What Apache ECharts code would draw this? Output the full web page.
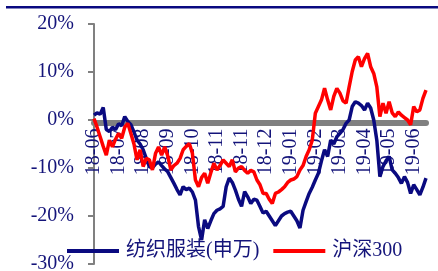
<!DOCTYPE html>
<html>
<head>
<meta charset="utf-8">
<script src="https://cdn.jsdelivr.net/npm/echarts@6/dist/echarts.min.js"></script>
<style>
  html, body { margin: 0; padding: 0; background: #fff; }
  #main { width: 438px; height: 271px; }
</style>
</head>
<body>
<div id="main"></div>
<script>
// 坐标轴刻度标签
var tickLabels = ['18-06', '18-07', '18-08', '18-09', '18-10', '18-11', '18-11',
  '18-12', '19-01', '19-02', '19-03', '19-04', '19-05', '19-06'];
var tickStep = 8; // 每隔8个数据点一个标签

// 纺织服装(申万) 累计涨跌幅 %
var textileData = [
  1.0, 1.5, 1.2, 2.6, -2.0, -2.4, -1.5, -2.0, -0.8, -1.2,
  0.7, -0.3, -1.0, -2.5, -4.2, -5.0, -6.2, -8.0, -9.7, -10.0,
  -9.2, -8.7, -9.5, -10.2, -10.8, -12.0, -13.2, -14.5, -15.6, -13.9,
  -14.5, -14.2, -15.0, -16.7, -22.2, -25.0, -20.8, -22.6, -21.0, -19.5,
  -18.8, -18.5, -18.0, -13.9, -12.1, -13.0, -14.6, -16.5, -18.0, -14.9,
  -16.0, -17.4, -16.5, -16.7, -18.0, -19.4, -19.0, -20.0, -21.0, -22.0,
  -21.0, -20.0, -19.5, -19.2, -19.0, -20.0, -21.0, -22.5, -18.8, -17.0,
  -15.3, -14.0, -12.5, -11.1, -8.5, -6.2, -7.6, -4.2, -5.0, -3.5,
  -2.8, -2.0, -0.7, 0.0, 2.8, 3.8, 3.5, 3.0, 2.1, 3.5,
  2.5, 0.0, -4.2, -11.8, -9.7, -8.5, -7.6, -10.4, -11.1, -12.0,
  -13.2, -11.8, -13.0, -15.3, -13.5, -14.5, -15.6, -14.0, -12.1
];

// 沪深300 累计涨跌幅 %
var hs300Data = [
  0.3, -1.5, -3.5, -5.5, -7.3, -4.2, -5.6, -4.0, -2.8, -3.8,
  -1.5, -0.7, -2.8, -5.0, -8.3, -6.2, -9.7, -8.0, -8.3, -10.4,
  -7.0, -5.6, -7.3, -5.6, -7.5, -10.4, -9.5, -9.0, -8.0, -6.2,
  -5.5, -4.9, -6.9, -12.5, -13.9, -12.0, -11.1, -13.2, -11.0, -9.0,
  -10.4, -9.5, -8.3, -9.0, -9.7, -8.3, -10.8, -10.0, -9.7, -10.5,
  -11.1, -10.5, -10.8, -12.5, -13.5, -15.3, -15.3, -16.5, -17.4, -15.3,
  -15.0, -14.5, -13.9, -13.0, -12.5, -12.3, -11.8, -10.4, -9.5, -7.6,
  -6.2, -4.2, 1.4, 2.8, 4.2, 6.6, 4.2, 2.1, 4.9, 6.6,
  5.6, 4.0, 3.5, 6.9, 10.1, 12.5, 13.2, 11.1, 12.8, 13.9,
  11.1, 9.7, 6.9, 0.7, 3.5, 1.4, 3.8, 1.5, 0.7, 1.7,
  1.0, 0.5, 0.0, -1.0, 2.8, 1.7, 2.1, 4.5, 6.2
];

var seriesNames = ['纺织服装(申万)', '沪深300'];

(function() {
  var chart = echarts.init(document.getElementById('main'));

  // 类目轴: 用序号作为类目, 标签由 tickLabels 给出
  var categories = textileData.map(function(v, i) { return String(i); });

  var textColor = '#14147a';
  var serif = '"Liberation Serif", "Noto Sans CJK SC", serif';

  var option = {
    animation: false,
    backgroundColor: '#fff',
    graphic: [{
      type: 'rect',
      left: 6, top: 6,
      shape: { width: 432, height: 2.5 },
      style: { fill: '#0a0a80' }
    }],
    legend: {
      data: seriesNames,
      left: 62,
      top: 236,
      icon: 'rect',
      itemWidth: 52,
      itemHeight: 4,
      itemGap: 14,
      textStyle: { color: textColor, fontSize: 20, fontFamily: serif, padding: [0, 0, 0, 2] }
    },
    grid: { left: 94, right: 12, top: 24, bottom: 7, containLabel: false, outerBoundsMode: 'none' },
    xAxis: {
      type: 'category',
      data: categories,
      boundaryGap: false,
      position: 'bottom',
      offset: -141.5, // 轴线移到0%附近
      axisLine: { onZero: false, lineStyle: { color: '#808080', width: 6 } },
      axisTick: { show: false },
      axisLabel: {
        interval: tickStep - 1,
        rotate: 90,
        margin: 6,
        color: textColor,
        fontSize: 20,
        fontFamily: serif,
        formatter: function(v, i) { return tickLabels[i / tickStep] || ''; }
      },
      splitLine: { show: false }
    },
    yAxis: {
      type: 'value',
      min: -30, max: 20, interval: 10,
      axisLine: { show: true, lineStyle: { color: '#808080', width: 2 } },
      axisTick: { show: true, length: 6, lineStyle: { color: '#808080', width: 2 } },
      axisLabel: {
        margin: 20,
        color: textColor,
        fontSize: 20,
        fontFamily: serif,
        formatter: '{value}%'
      },
      splitLine: { show: false }
    },
    series: [{
      name: seriesNames[0],
      type: 'line',
      data: textileData,
      showSymbol: false,
      z: 3,
      itemStyle: { color: '#0a0a80' },
      lineStyle: { color: '#0a0a80', width: 3.5 }
    }, {
      name: seriesNames[1],
      type: 'line',
      data: hs300Data,
      showSymbol: false,
      z: 3,
      itemStyle: { color: '#ff0000' },
      lineStyle: { color: '#ff0000', width: 3.5 }
    }]
  };

  chart.setOption(option);
})();
</script>
</body>
</html>
